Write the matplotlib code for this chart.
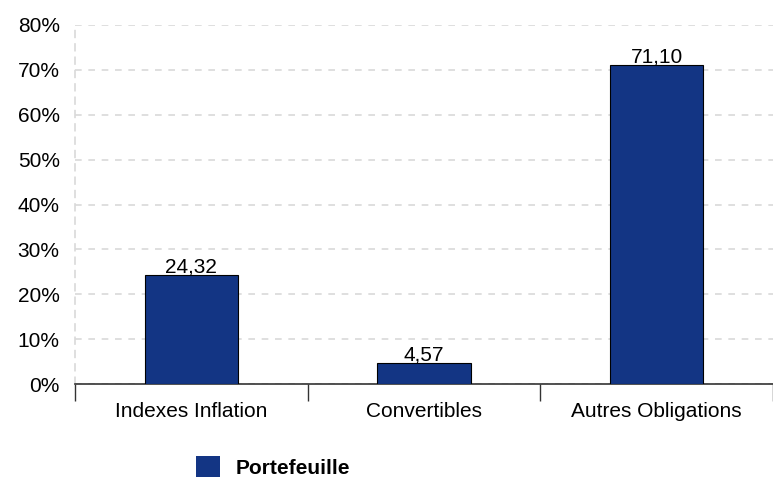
import matplotlib.pyplot as plt
from matplotlib.ticker import FuncFormatter

categories = ["Indexes Inflation", "Convertibles", "Autres Obligations"]
portefeuille = [24.32, 4.57, 71.10]
yticks = [0, 10, 20, 30, 40, 50, 60, 70, 80]

plt.rcParams['font.family'] = ['Liberation Sans', 'DejaVu Sans']

fig = plt.figure(figsize=(7.73, 4.78), dpi=100)
ax = fig.add_axes([75/773, 1 - 384/478, 1 - 75/773, (384 - 25)/478])

x = range(len(categories))
bars = ax.bar(x, portefeuille, width=0.4, color="#133584", edgecolor="black",
              linewidth=0.8, zorder=3, label="Portefeuille")

for b, v in zip(bars, portefeuille):
    ax.text(b.get_x() + b.get_width()/2, v - 0.3, f"{v:.2f}".replace(".", ","),
            ha="center", va="bottom", fontsize=15, zorder=4)

ax.set_xlim(-0.5, 2.5)
ax.set_ylim(0, 80)
ax.set_yticks(yticks)
ax.yaxis.set_major_formatter(FuncFormatter(lambda v, p: f"{v:.0f}%"))
ax.yaxis.grid(True, color="#d9d9d9", linestyle=(0, (4, 4)), linewidth=1.2, zorder=0)

ax.set_xticks([-0.5, 0.5, 1.5, 2.5])
ax.set_xticklabels([])
ax.set_xticks(list(x), minor=True)
ax.set_xticklabels(categories, minor=True, fontsize=15)
ax.tick_params(axis="x", which="major", length=12, color="#333333", width=1)
ax.tick_params(axis="x", which="minor", length=0, pad=13)
ax.tick_params(axis="y", length=0, labelsize=15, pad=11)

for s in ["top", "right"]:
    ax.spines[s].set_visible(False)
ax.spines["bottom"].set_color("#333333")
ax.spines["bottom"].set_linewidth(1.2)
ax.spines["left"].set_color("#d9d9d9")
ax.spines["left"].set_linestyle((0, (4, 4)))
ax.spines["left"].set_linewidth(1.2)

leg = fig.legend(handles=[bars], labels=["Portefeuille"], loc="center left",
                 bbox_to_anchor=(177/773, 1 - 467/478), frameon=False,
                 handlelength=1.15, handleheight=1.15, handletextpad=0.75,
                 prop={"weight": "bold", "size": 15})
leg.legend_handles[0].set_edgecolor("none")

fig.savefig("out.png", dpi=100)
